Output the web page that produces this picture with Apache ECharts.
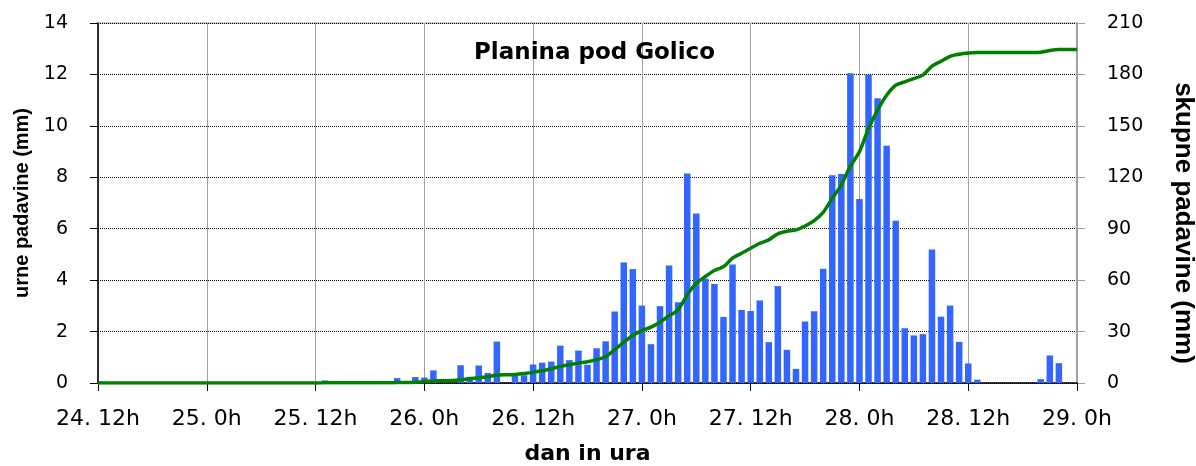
<!DOCTYPE html>
<html>
<head>
<meta charset="utf-8">
<script src="https://cdn.jsdelivr.net/npm/echarts@6/dist/echarts.min.js"></script>
<style>
  html, body { margin: 0; padding: 0; background: #fff; }
  #chart { width: 1196px; height: 466px; }
</style>
</head>
<body>
<div id="chart"></div>
<script>
// hours counted from 24. 12h (index 0) to 29. 0h (index 108)
var xTickLabels = ['24. 12h', '25. 0h', '25. 12h', '26. 0h', '26. 12h',
                   '27. 0h', '27. 12h', '28. 0h', '28. 12h', '29. 0h'];

// urne padavine (mm), one value per hour
var hourlyRain = [
  0, 0, 0, 0, 0, 0, 0, 0, 0, 0, 0, 0,
  0, 0, 0, 0, 0, 0, 0, 0, 0, 0, 0, 0,
  0, 0.1, 0, 0, 0, 0, 0, 0, 0, 0.19, 0, 0.23,
  0.21, 0.49, 0, 0, 0.69, 0.24, 0.68, 0.39, 1.61, 0, 0.29, 0.3,
  0.72, 0.79, 0.83, 1.45, 0.89, 1.26, 0.71, 1.35, 1.62, 2.78, 4.69, 4.43,
  3.01, 1.51, 2.99, 4.57, 3.14, 8.15, 6.59, 4.06, 3.85, 2.57, 4.61, 2.84,
  2.80, 3.21, 1.59, 3.77, 1.29, 0.55, 2.39, 2.79, 4.44, 8.08, 8.13, 12.05,
  7.16, 12.0, 11.07, 9.23, 6.31, 2.13, 1.85, 1.90, 5.19, 2.58, 3.01, 1.60,
  0.76, 0.13, 0, 0, 0, 0, 0, 0, 0.15, 1.07, 0.77, 0,
  0
];

// skupne padavine (mm)
var totalRain = [
  0, 0, 0, 0, 0, 0, 0, 0, 0, 0, 0, 0,
  0, 0, 0, 0, 0, 0, 0, 0, 0, 0, 0, 0,
  0, 0.1, 0.1, 0.1, 0.1, 0.1, 0.1, 0.1, 0.1, 0.3, 0.3, 0.5,
  0.8, 1.2, 1.3, 1.5, 1.9, 2.5, 3.1, 3.7, 4.6, 4.8, 5.0, 5.6,
  6.2, 7.1, 8.3, 9.7, 10.7, 11.6, 12.4, 13.6, 15.5, 19.4, 23.8, 27.7,
  30.6, 32.6, 35.5, 39.2, 42.7, 51.4, 58.2, 62.1, 65.6, 67.9, 72.8, 75.7,
  78.6, 81.5, 83.5, 87.0, 88.5, 89.3, 91.6, 94.7, 99.5, 107.7, 115.5, 126.5,
  134.9, 148.5, 159.2, 167.9, 173.7, 175.7, 177.6, 179.6, 184.8, 187.7, 190.6, 191.8,
  192.5, 192.8, 192.8, 192.8, 192.8, 192.8, 192.8, 192.8, 193.0, 193.9, 194.5, 194.5,
  194.5
];

// zero hours get no bar at all
var barData = hourlyRain.map(function (v, i) { return v > 0 ? [i, v] : [i, '-']; });
var lineData = totalRain.map(function (v, i) { return [i, v]; });

var chart = echarts.init(document.getElementById('chart'));

var option = {
  animation: false,
  backgroundColor: '#fff',
  textStyle: { fontFamily: 'DejaVu Sans' },
  title: {
    text: 'Planina pod Golico',
    left: 469,
    top: 37,
    textStyle: { fontFamily: 'DejaVu Sans', fontWeight: 'bold', fontSize: 23, color: '#000' }
  },
  grid: {
    left: 98, right: 119, top: 23, bottom: 83,
    outerBoundsMode: 'none',
    show: true, borderColor: '#a0a0a0', borderWidth: 1
  },
  xAxis: {
    type: 'value',
    min: 0, max: 108, interval: 12,
    name: 'dan in ura',
    nameLocation: 'middle',
    nameGap: 60,
    nameTextStyle: { fontFamily: 'DejaVu Sans', fontWeight: 'bold', fontSize: 22, color: '#000' },
    axisLine: { onZero: false, lineStyle: { color: '#000', width: 1.5 } },
    axisTick: { show: true, length: 8, lineStyle: { color: '#000' } },
    axisLabel: {
      margin: 25, fontSize: 22, color: '#000',
      formatter: function (v) { return xTickLabels[v / 12]; }
    },
    splitLine: { show: true, lineStyle: { color: '#a0a0a0', width: 1, type: 'solid' } }
  },
  yAxis: [
    {
      type: 'value', min: 0, max: 14, interval: 2,
      name: 'urne padavine (mm)',
      nameLocation: 'middle', nameRotate: 90, nameGap: 66,
      nameTextStyle: { fontFamily: 'Liberation Sans', fontWeight: 'bold', fontSize: 20, color: '#000' },
      axisLine: { show: true, lineStyle: { color: '#000', width: 1.5 } },
      axisTick: { show: true, length: 8, lineStyle: { color: '#000' } },
      axisLabel: { margin: 30, fontSize: 19, color: '#000' },
      splitLine: { show: true, lineStyle: { color: '#000', width: 1, type: [1, 1] } }
    },
    {
      type: 'value', min: 0, max: 210, interval: 30,
      name: 'skupne padavine (mm)',
      nameLocation: 'middle', nameRotate: -90, nameGap: 93,
      // extra padding pushes the title a little below the axis middle
      nameTextStyle: {
        fontFamily: 'Liberation Sans', fontWeight: 'bold', fontSize: 26, color: '#000',
        padding: [0, 0, 0, 40]
      },
      axisLine: { show: true, lineStyle: { color: '#a0a0a0', width: 2 } },
      axisTick: { show: true, length: 8, lineStyle: { color: '#a0a0a0' } },
      axisLabel: { margin: 30, fontSize: 19, color: '#000' },
      splitLine: { show: false }
    }
  ],
  series: [
    {
      name: 'urne padavine',
      type: 'bar',
      data: barData,
      barWidth: 6.5,
      itemStyle: { color: '#3366ff' }
    },
    {
      name: 'skupne padavine',
      type: 'line',
      yAxisIndex: 1,
      data: lineData,
      showSymbol: false,
      smooth: 0.2,
      z: 5,
      lineStyle: { color: '#008000', width: 3.5 }
    }
  ]
};

chart.setOption(option);
</script>
</body>
</html>
